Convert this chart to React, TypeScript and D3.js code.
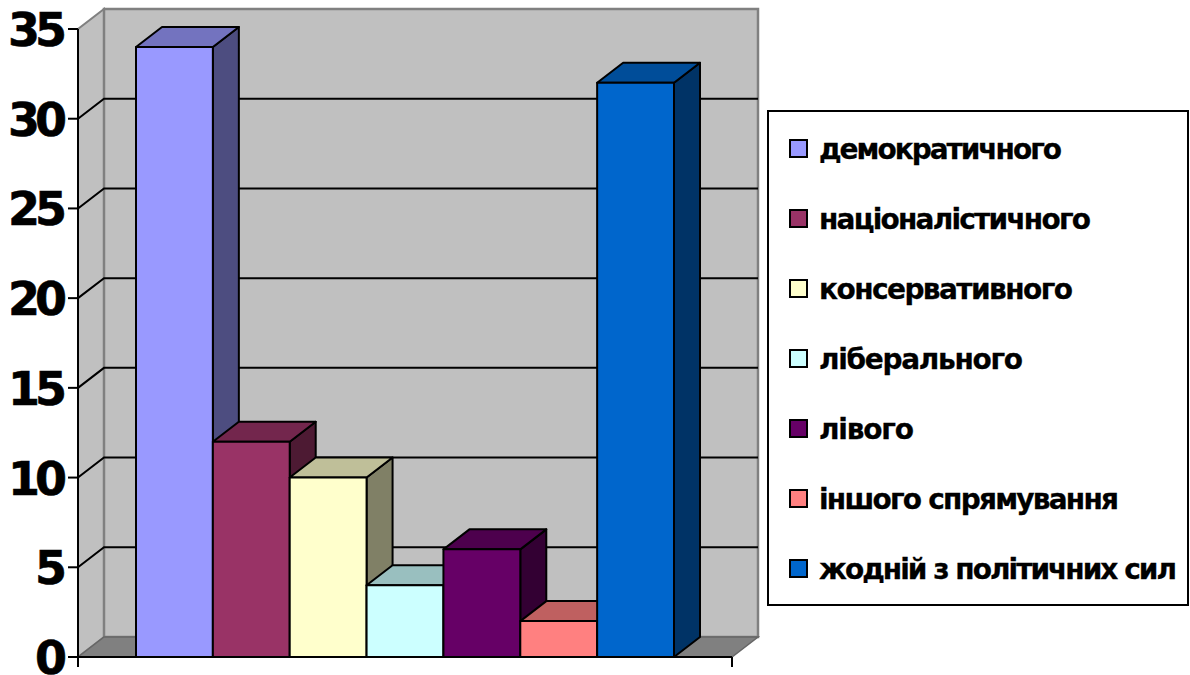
import React from "react";
import * as d3 from "d3";

const categories = ["демократичного", "націоналістичного", "консервативного", "ліберального", "лівого", "іншого спрямування", "жодній з політичних сил"];
const values = [34, 12, 10, 4, 6, 2, 32];
const colors = ["#9999ff", "#993366", "#ffffcc", "#ccffff", "#660066", "#ff8080", "#0066cc"];
const yTicks = [0, 5, 10, 15, 20, 25, 30, 35];
const labelWidths = [243, 272, 254, 204, 95, 300, 358];

const DX = 26;
const DY = -20;
const X0 = 78;
const X1 = 732;
const y = d3.scaleLinear().domain([0, 35]).range([657, 29]);
const band = d3.scaleBand<number>().domain(d3.range(values.length)).range([136, 674]).padding(0);
const legendY = d3.scalePoint<number>().domain(d3.range(categories.length)).range([149, 569]);
const poly = d3.line();
const shade = (c: string, k: number) => {
  const r = d3.rgb(c);
  return d3.rgb(r.r * k, r.g * k, r.b * k).formatHex();
};
const FONT = "'DejaVu Sans', sans-serif";

export default function App() {
  const y0 = y(0);
  const yTop = y(35);
  return (
    <svg width={1190} height={675} viewBox="0 0 1190 675" style={{ position: "absolute", left: 0, top: 0, display: "block" }}>
      <rect width={1190} height={675} fill="#fff" />
      {/* walls */}
      <path d={poly([[X0, y0], [X0 + DX, y0 + DY], [X0 + DX, yTop + DY], [X0, yTop]])! + "Z"} fill="#c0c0c0" stroke="#808080" strokeWidth={2} />
      <path d={poly([[X0 + DX, y0 + DY], [X1 + DX, y0 + DY], [X1 + DX, yTop + DY], [X0 + DX, yTop + DY]])! + "Z"} fill="#c0c0c0" stroke="#808080" strokeWidth={2.5} />
      <path d={poly([[X0, y0], [X0 + DX, y0 + DY], [X1 + DX, y0 + DY], [X1, y0]])! + "Z"} fill="#808080" stroke="#666" strokeWidth={1.5} />
      {/* gridlines */}
      {yTicks.filter((t) => t > 0 && t < 35).map((t) => (
        <path key={t} d={poly([[X0, y(t)], [X0 + DX, y(t) + DY], [X1 + DX, y(t) + DY]])!} fill="none" stroke="#000" strokeWidth={2} />
      ))}
      {/* bars */}
      {values.map((v, i) => {
        const a = band(i)!;
        const b = a + band.bandwidth();
        const t = y(v);
        return (
          <g key={i} stroke="#000" strokeWidth={2} strokeLinejoin="round">
            <path d={poly([[b, y0], [b + DX, y0 + DY], [b + DX, t + DY], [b, t]])! + "Z"} fill={shade(colors[i], 0.5)} />
            <path d={poly([[a, t], [a + DX, t + DY], [b + DX, t + DY], [b, t]])! + "Z"} fill={shade(colors[i], 0.75)} />
            <rect x={a} y={t} width={b - a} height={y0 - t} fill={colors[i]} />
          </g>
        );
      })}
      {/* axes */}
      <line x1={X0} x2={X0} y1={yTop} y2={y0 + 10} stroke="#000" strokeWidth={2} />
      <line x1={X0} x2={X1} y1={y0} y2={y0} stroke="#000" strokeWidth={2} />
      <line x1={X1} x2={X1} y1={y0} y2={y0 + 10} stroke="#000" strokeWidth={2} />
      {yTicks.map((t) => (
        <g key={t}>
          <line x1={X0 - 10} x2={X0} y1={y(t)} y2={y(t)} stroke="#000" strokeWidth={2} />
          <text x={63} y={y(t) + 17} textAnchor="end" fontFamily={FONT} fontWeight={700} fontSize={46} letterSpacing={-5} stroke="#000" strokeWidth={0.6} fill="#000" dx={-1}>{t}</text>
        </g>
      ))}
      {/* legend */}
      <rect x={768} y={111} width={420} height={494} fill="#fff" stroke="#000" strokeWidth={2} />
      {categories.map((c, i) => {
        const ly = legendY(i)!;
        return (
          <g key={c}>
            <rect x={790} y={ly - 9} width={17} height={17} fill={colors[i]} stroke="#000" strokeWidth={2} />
            <text x={819} y={ly + 10} fontFamily={FONT} fontWeight={700} fontSize={28} textLength={labelWidths[i]} lengthAdjust="spacing" stroke="#000" strokeWidth={0.3} fill="#000">{c}</text>
          </g>
        );
      })}
    </svg>
  );
}
